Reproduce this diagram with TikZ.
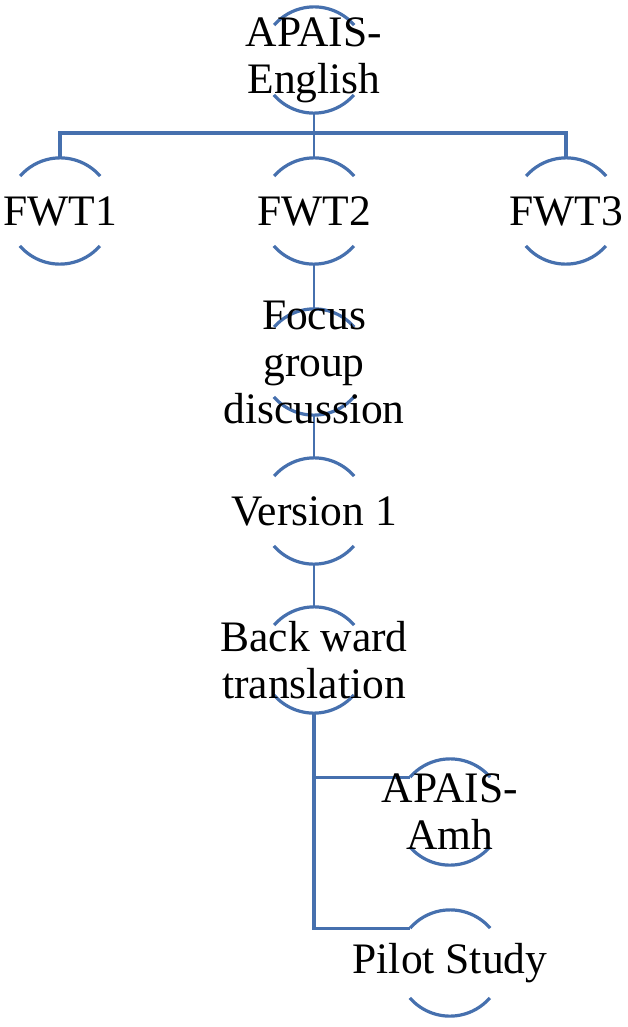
\documentclass[tikz,border=0pt]{standalone}
\usepackage{fontspec}
\setmainfont{Liberation Serif}
\definecolor{arcblue}{HTML}{4670AE}
\tikzset{
  ring/.style={circle,minimum size=106pt,inner sep=0pt,draw=none},
  txt/.style={align=center,inner sep=0pt,font=\fontsize{43.5}{47}\selectfont,text=black},
  arcline/.style={draw=arcblue,line width=3.2pt},
  conn/.style={draw=arcblue,line width=2.2pt},
  tree/.style={draw=arcblue,line width=3.2pt}
}
\newcommand\ringarcs[1]{%
  \draw[arcline] (#1.41) arc[start angle=41,end angle=139,radius=53pt];
  \draw[arcline] (#1.221) arc[start angle=221,end angle=319,radius=53pt];}
\begin{document}
\begin{tikzpicture}[x=1pt,y=1pt]
\useasboundingbox (0,0) rectangle (628,-1027);
\node[ring] (eng) at (314,-60) {};
\node[ring] (fwt1) at (60,-211) {};
\node[ring] (fwt2) at (314,-211) {};
\node[ring] (fwt3) at (566,-211) {};
\node[ring] (focus) at (314,-362) {};
\node[ring] (ver) at (314,-511) {};
\node[ring] (back) at (314,-660) {};
\node[ring] (amh) at (450,-812) {};
\node[ring] (pilot) at (450,-963) {};
\coordinate (bar) at (314,-133);
% connectors
\draw[conn] (eng.south) -- (fwt2.north);
\draw[tree] (fwt1.north) |- (bar) -| (fwt3.north);
\draw[conn] (fwt2.south) -- (focus.north);
\draw[conn] (focus.south) -- (ver.north);
\draw[conn] (ver.south) -- (back.north);
\draw[tree] (back.south) |- (amh.139);
\draw[tree] (back.south) |- (pilot.139);
% arcs
\ringarcs{eng}\ringarcs{fwt1}\ringarcs{fwt2}\ringarcs{fwt3}
\ringarcs{focus}\ringarcs{ver}\ringarcs{back}\ringarcs{amh}\ringarcs{pilot}
% texts
\node[txt] (teng) at (eng) {APAIS-\\English};
\node[txt] (tfwt1) at (fwt1) {FWT1};
\node[txt] (tfwt2) at (fwt2) {FWT2};
\node[txt] (tfwt3) at (fwt3) {FWT3};
\node[txt] (tfocus) at (focus) {Focus\\group\\discussion};
\node[txt] (tver) at (ver) {Version 1};
\node[txt] (tback) at (back) {Back ward\\translation};
\node[txt] (tamh) at (amh) {APAIS-\\Amh};
\node[txt] (tpilot) at (pilot) {Pilot Study};
\end{tikzpicture}
\end{document}
